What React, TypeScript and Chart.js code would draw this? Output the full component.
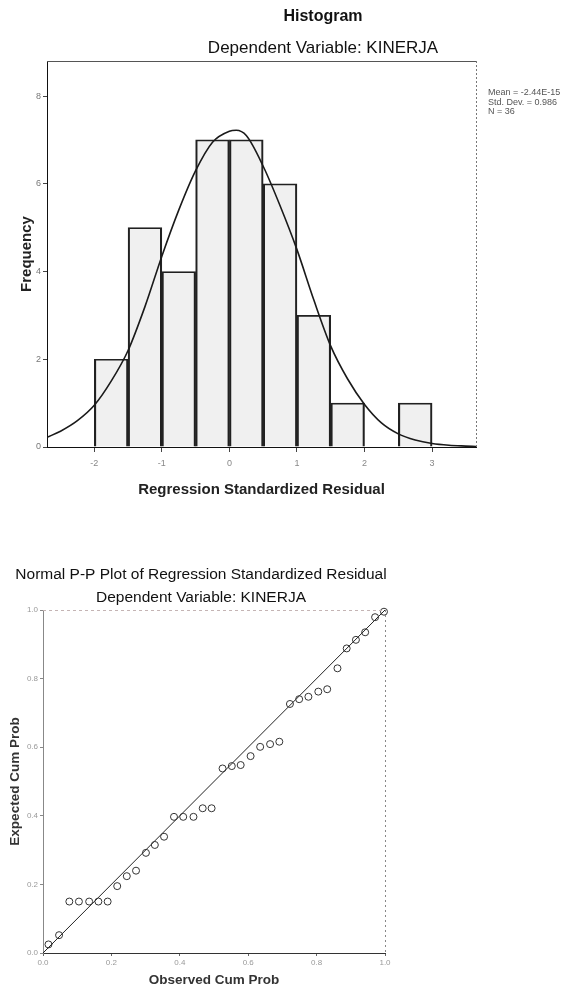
import React, { useEffect, useRef } from 'react';
import { Chart, registerables } from 'chart.js';

Chart.register(...registerables);

const FONT = '"Liberation Sans", Arial, Helvetica, sans-serif';
Chart.defaults.font.family = FONT;

// ---------- Histogram data ----------
const binCenters = [-1.75, -1.25, -0.75, -0.25, 0.25, 0.75, 1.25, 1.75, 2.25, 2.75];
const frequencies = [2, 5, 4, 7, 7, 6, 3, 1, 0, 1];
const curveX = [-2.7, -2.5, -2.25, -2, -1.75, -1.5, -1.25, -1, -0.75, -0.5, -0.25, 0, 0.1, 0.25, 0.5, 0.75, 1, 1.25, 1.5, 1.75, 2, 2.25, 2.5, 2.75, 3, 3.25, 3.5, 3.65];
const curveY = [0.22, 0.36, 0.6, 0.95, 1.5, 2.2, 3.2, 4.35, 5.4, 6.3, 6.95, 7.2, 7.22, 7.1, 6.4, 5.5, 4.5, 3.35, 2.3, 1.55, 0.97, 0.55, 0.3, 0.16, 0.08, 0.04, 0.02, 0.01];
const histXTicks = [-2, -1, 0, 1, 2, 3];
const histYTicks = [0, 2, 4, 6, 8];
const histStats = ['Mean = -2.44E-15', 'Std. Dev. = 0.986', 'N = 36'];

// ---------- P-P plot data ----------
const observedCumProb = [0.016, 0.047, 0.077, 0.105, 0.135, 0.162, 0.189, 0.217, 0.245, 0.272, 0.301, 0.327, 0.354, 0.383, 0.41, 0.44, 0.467, 0.493, 0.525, 0.552, 0.578, 0.607, 0.635, 0.664, 0.691, 0.722, 0.749, 0.776, 0.805, 0.831, 0.861, 0.888, 0.915, 0.942, 0.971, 0.997];
const expectedCumProb = [0.025, 0.052, 0.15, 0.15, 0.15, 0.15, 0.15, 0.195, 0.224, 0.24, 0.292, 0.315, 0.339, 0.397, 0.397, 0.397, 0.422, 0.422, 0.538, 0.545, 0.548, 0.574, 0.601, 0.609, 0.616, 0.726, 0.74, 0.747, 0.762, 0.769, 0.83, 0.888, 0.913, 0.935, 0.979, 0.995];
const refLine = [0, 1];
const ppTicks = [0, 0.2, 0.4, 0.6, 0.8, 1.0];

const histOverlay = {
  id: 'histOverlay',
  afterDraw(chart: any) {
    const { ctx, chartArea: a } = chart;
    ctx.save();
    ctx.strokeStyle = '#555';
    ctx.lineWidth = 1;
    ctx.beginPath();
    ctx.moveTo(a.left, a.top + 0.5);
    ctx.lineTo(a.right, a.top + 0.5);
    ctx.stroke();
    ctx.setLineDash([2, 2]);
    ctx.strokeStyle = '#777';
    ctx.beginPath();
    ctx.moveTo(a.right + 0.5, a.top);
    ctx.lineTo(a.right + 0.5, a.bottom);
    ctx.stroke();
    ctx.setLineDash([]);
    ctx.fillStyle = '#111';
    ctx.textAlign = 'center';
    ctx.textBaseline = 'middle';
    ctx.font = `bold 16px ${FONT}`;
    ctx.fillText('Histogram', 323, 17);
    ctx.font = `17px ${FONT}`;
    ctx.fillText('Dependent Variable: KINERJA', 323, 48);
    ctx.font = `9px ${FONT}`;
    ctx.fillStyle = '#555';
    ctx.textAlign = 'left';
    histStats.forEach((t, i) => ctx.fillText(t, a.right + 12, 93 + i * 9.5));
    ctx.restore();
  },
};

const ppOverlay = {
  id: 'ppOverlay',
  afterDraw(chart: any) {
    const { ctx, chartArea: a } = chart;
    ctx.save();
    ctx.lineWidth = 1;
    ctx.setLineDash([3, 3]);
    ctx.strokeStyle = '#c4b4b4';
    ctx.beginPath();
    ctx.moveTo(a.left, a.top + 0.5);
    ctx.lineTo(a.right, a.top + 0.5);
    ctx.stroke();
    ctx.strokeStyle = '#888';
    ctx.setLineDash([2, 3]);
    ctx.beginPath();
    ctx.moveTo(a.right + 0.5, a.top);
    ctx.lineTo(a.right + 0.5, a.bottom);
    ctx.stroke();
    ctx.setLineDash([]);
    ctx.fillStyle = '#111';
    ctx.textAlign = 'center';
    ctx.textBaseline = 'middle';
    ctx.font = `15.5px ${FONT}`;
    ctx.fillText('Normal P-P Plot of Regression Standardized Residual', 201, 45);
    ctx.fillText('Dependent Variable: KINERJA', 201, 68);
    ctx.restore();
  },
};

function histConfig(): any {
  return {
    type: 'bar',
    data: {
      datasets: [
        {
          type: 'line',
          data: curveX.map((x, i) => ({ x, y: curveY[i] })),
          borderColor: '#1a1a1a',
          borderWidth: 1.6,
          pointRadius: 0,
          cubicInterpolationMode: 'monotone',
          fill: false,
          order: 0,
        },
        {
          type: 'bar',
          data: binCenters.map((x, i) => ({ x, y: frequencies[i] })),
          backgroundColor: 'rgba(0,0,0,0.06)',
          borderColor: '#222',
          borderWidth: { top: 1, left: 1.5, right: 1.5, bottom: 0 },
          barPercentage: 1,
          categoryPercentage: 1,
          order: 1,
        },
      ],
    },
    options: {
      responsive: false,
      animation: false,
      devicePixelRatio: 1,
      layout: { padding: { left: 0, top: 61, right: 97, bottom: 0 } },
      plugins: { legend: { display: false }, tooltip: { enabled: false }, title: { display: false } },
      scales: {
        x: {
          type: 'linear',
          min: -2.7,
          max: 3.65,
          offset: false,
          afterFit: (s: any) => { s.height = 73; },
          afterBuildTicks: (s: any) => { s.ticks = histXTicks.map((v) => ({ value: v })); },
          grid: { offset: false, drawOnChartArea: false, drawTicks: true, tickLength: 5, color: '#444' },
          border: { color: '#111', width: 1 },
          ticks: { padding: 6, font: { size: 9 }, color: '#888', maxRotation: 0, autoSkip: false },
          title: {
            display: true,
            text: 'Regression Standardized Residual',
            font: { size: 15, weight: 'bold' },
            color: '#222',
            padding: { top: 0, bottom: 21 },
          },
        },
        y: {
          min: 0,
          max: 8.8,
          afterFit: (s: any) => { s.width = 47; },
          afterBuildTicks: (s: any) => { s.ticks = histYTicks.map((v) => ({ value: v })); },
          grid: { drawOnChartArea: false, drawTicks: true, tickLength: 4, color: '#444' },
          border: { color: '#111', width: 1 },
          ticks: { padding: 2, font: { size: 9 }, color: '#777' },
          title: {
            display: true,
            text: 'Frequency',
            font: { size: 15, weight: 'bold' },
            color: '#222',
            padding: { top: 18, bottom: 0 },
          },
        },
      },
    },
    plugins: [histOverlay],
  };
}

function ppConfig(): any {
  return {
    type: 'scatter',
    data: {
      datasets: [
        {
          type: 'line',
          data: refLine.map((v) => ({ x: v, y: v })),
          borderColor: '#222',
          borderWidth: 1,
          pointRadius: 0,
          fill: false,
          order: 1,
        },
        {
          type: 'scatter',
          data: observedCumProb.map((x, i) => ({ x, y: expectedCumProb[i] })),
          pointStyle: 'circle',
          pointRadius: 3.5,
          borderColor: '#333',
          borderWidth: 1,
          backgroundColor: 'rgba(0,0,0,0)',
          clip: false,
          order: 0,
        },
      ],
    },
    options: {
      responsive: false,
      animation: false,
      devicePixelRatio: 1,
      layout: { padding: { left: 0, top: 80, right: 188, bottom: 0 } },
      plugins: { legend: { display: false }, tooltip: { enabled: false }, title: { display: false } },
      scales: {
        x: {
          type: 'linear',
          min: 0,
          max: 1,
          afterFit: (s: any) => { s.height = 42; },
          afterBuildTicks: (s: any) => { s.ticks = ppTicks.map((v) => ({ value: v })); },
          grid: { drawOnChartArea: false, drawTicks: true, tickLength: 3, color: '#666' },
          border: { color: '#333', width: 1 },
          ticks: { padding: 2, font: { size: 8 }, color: '#999', maxRotation: 0, autoSkip: false, callback: (v: any) => Number(v).toFixed(1) },
          title: {
            display: true,
            text: 'Observed Cum Prob',
            font: { size: 13.5, weight: 'bold' },
            color: '#333',
            padding: { top: 0, bottom: 7 },
          },
        },
        y: {
          min: 0,
          max: 1,
          afterFit: (s: any) => { s.width = 43; },
          afterBuildTicks: (s: any) => { s.ticks = ppTicks.map((v) => ({ value: v })); },
          grid: { drawOnChartArea: false, drawTicks: true, tickLength: 3, color: '#888' },
          border: { color: '#888', width: 1, dash: [3, 2] },
          ticks: { padding: 2, font: { size: 8 }, color: '#999', callback: (v: any) => Number(v).toFixed(1) },
          title: {
            display: true,
            text: 'Expected Cum Prob',
            font: { size: 13.5, weight: 'bold' },
            color: '#333',
            padding: { top: 7, bottom: 0 },
          },
        },
      },
    },
    plugins: [ppOverlay],
  };
}

export default function App() {
  const histRef = useRef<HTMLCanvasElement>(null);
  const ppRef = useRef<HTMLCanvasElement>(null);

  useEffect(() => {
    const h = new Chart(histRef.current as HTMLCanvasElement, histConfig());
    const p = new Chart(ppRef.current as HTMLCanvasElement, ppConfig());
    return () => {
      h.destroy();
      p.destroy();
    };
  }, []);

  return (
    <div style={{ position: 'absolute', left: 0, top: 0, width: 573, height: 995, background: '#fff' }}>
      <canvas
        ref={histRef}
        width={573}
        height={520}
        style={{ position: 'absolute', left: 0, top: 0, width: 573, height: 520 }}
      />
      <canvas
        ref={ppRef}
        width={573}
        height={465}
        style={{ position: 'absolute', left: 0, top: 530, width: 573, height: 465 }}
      />
    </div>
  );
}
